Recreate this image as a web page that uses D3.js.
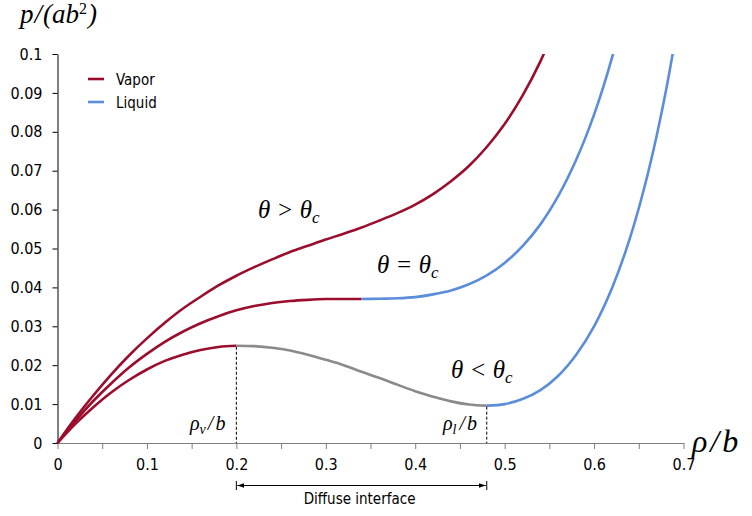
<!DOCTYPE html>
<html>
<head>
<meta charset="utf-8">
<script src="https://cdn.jsdelivr.net/npm/d3@7"></script>
<style>
  body { margin: 0; background: #fff; }
  svg text { font-family: "DejaVu Sans Condensed", "DejaVu Sans", sans-serif; }
  .math { font-family: "Liberation Serif", serif; font-style: italic; }
</style>
</head>
<body>
<svg id="chart" width="752" height="516"></svg>
<script>
// density rho/b
const rho = [0, 0.02, 0.04, 0.06, 0.08, 0.10, 0.12, 0.14, 0.16, 0.18, 0.20, 0.22, 0.24, 0.26, 0.28,
  0.30, 0.32, 0.34, 0.36, 0.38, 0.40, 0.42, 0.44, 0.46, 0.48, 0.50, 0.52, 0.54, 0.56, 0.58, 0.60,
  0.62, 0.64, 0.66, 0.68, 0.70];

// pressure p/(ab^2)
const hotP = [0, 0.0064, 0.0122, 0.0176, 0.0225, 0.0269, 0.0309, 0.0345, 0.0376, 0.0405, 0.0430,
  0.0452, 0.0472, 0.0491, 0.0507, 0.0523, 0.0538, 0.0554, 0.0572, 0.0591, 0.0613, 0.0640, 0.0673,
  0.0712, 0.0761, 0.0820, 0.0893, 0.0981, 0.1090];
const critP = [0, 0.0057, 0.0108, 0.0153, 0.0194, 0.0229, 0.0260, 0.0286, 0.0308, 0.0326, 0.0341,
  0.0352, 0.0360, 0.0365, 0.0368, 0.0370, 0.0370, 0.0370, 0.0371, 0.0372, 0.0375, 0.0382, 0.0392,
  0.0408, 0.0431, 0.0463, 0.0506, 0.0562, 0.0635, 0.0728, 0.0844, 0.0990, 0.1172];
const coldP = [0, 0.0049, 0.0092, 0.0130, 0.0162, 0.0189, 0.0211, 0.0227, 0.0239, 0.0247, 0.0250,
  0.0249, 0.0245, 0.0238, 0.0227, 0.0214, 0.0200, 0.0183, 0.0167, 0.0150, 0.0133, 0.0119, 0.0107,
  0.0099, 0.0096, 0.0100, 0.0113, 0.0136, 0.0173, 0.0227, 0.0300, 0.0398, 0.0526, 0.0691, 0.0901,
  0.1167];

// phase breaks on each isotherm (rho/b)
const critVaporEnd = 0.34;
const coldVaporEnd = 0.20;
const coldLiquidStart = 0.48;

const xTicks = [0, 0.05, 0.1, 0.15, 0.2, 0.25, 0.3, 0.35, 0.4, 0.45, 0.5, 0.55, 0.6, 0.65, 0.7];
const xLabels = [0, 0.1, 0.2, 0.3, 0.4, 0.5, 0.6, 0.7];
const yTicks = [0, 0.01, 0.02, 0.03, 0.04, 0.05, 0.06, 0.07, 0.08, 0.09, 0.1];

const red = "#9b0d2d", blue = "#5b8ddb", gray = "#8a8a8a";

const svg = d3.select("#chart");
const mLeft = 57.5, mRight = 683.5, mTop = 54, mBottom = 443;

const x = d3.scaleLinear().domain([0, 0.7]).range([mLeft, mRight]);
const y = d3.scaleLinear().domain([0, 0.1]).range([mBottom, mTop]);

svg.append("clipPath").attr("id", "plot")
  .append("rect").attr("x", mLeft - 3).attr("y", mTop).attr("width", mRight - mLeft + 6).attr("height", mBottom - mTop + 3);

// axes
const xAxis = svg.append("g").attr("transform", `translate(0,${mBottom})`)
  .call(d3.axisBottom(x).tickValues(xTicks).tickSize(6).tickSizeOuter(0)
    .tickFormat(d => xLabels.some(v => Math.abs(v - d) < 1e-9) ? d3.format("")(+d.toFixed(2)) : ""));
xAxis.select(".domain").attr("stroke", "#7f7f7f");
xAxis.selectAll(".tick line").attr("stroke", "#7f7f7f");
xAxis.selectAll("text").attr("font-size", 16).attr("fill", "#000").attr("y", 27).attr("dy", 0);

const yAxis = svg.append("g").attr("transform", `translate(${mLeft},0)`)
  .call(d3.axisLeft(y).tickValues(yTicks).tickSize(5).tickSizeOuter(0)
    .tickFormat(d => d3.format("")(+d.toFixed(2))));
yAxis.select(".domain").attr("stroke", "#000");
yAxis.selectAll(".tick line").attr("stroke", "#000");
yAxis.selectAll("text").attr("font-size", 16).attr("fill", "#000").attr("x", -15);

// isotherms
const line = d3.line().x(d => x(d[0])).y(d => y(d[1])).curve(d3.curveCatmullRom);
const pts = arr => arr.map((p, i) => [rho[i], p]);
const seg = (arr, a, b) => pts(arr).filter(d => d[0] >= a - 1e-9 && d[0] <= b + 1e-9);

const curves = svg.append("g").attr("clip-path", "url(#plot)")
  .attr("fill", "none").attr("stroke-width", 2.6).attr("stroke-linecap", "butt");

const segments = [
  { d: seg(hotP, 0, 1), c: red },
  { d: seg(critP, 0, critVaporEnd), c: red },
  { d: seg(critP, critVaporEnd, 1), c: blue },
  { d: seg(coldP, 0, coldVaporEnd), c: red },
  { d: seg(coldP, coldVaporEnd, coldLiquidStart), c: gray },
  { d: seg(coldP, coldLiquidStart, 1), c: blue }
];
curves.selectAll("path").data(segments).join("path")
  .attr("d", s => line(s.d)).attr("stroke", s => s.c);

// spinodal markers
const spin = [[coldVaporEnd, coldP[rho.indexOf(coldVaporEnd)]], [coldLiquidStart, coldP[rho.indexOf(coldLiquidStart)]]];
svg.selectAll(".spin").data(spin).join("line").attr("class", "spin")
  .attr("x1", d => x(d[0])).attr("x2", d => x(d[0]))
  .attr("y1", d => y(d[1]) + 1).attr("y2", mBottom)
  .attr("stroke", "#000").attr("stroke-width", 1).attr("stroke-dasharray", "3,2");

// diffuse interface arrow
const defs = svg.append("defs");
defs.append("marker").attr("id", "ah").attr("viewBox", "0 0 10 10").attr("refX", 10).attr("refY", 5)
  .attr("markerWidth", 7).attr("markerHeight", 7).attr("orient", "auto-start-reverse")
  .append("path").attr("d", "M0,1.5L10,5L0,8.5Z").attr("fill", "#000");
const ay = 485.5;
svg.append("line").attr("x1", x(coldVaporEnd) + 1).attr("x2", x(coldLiquidStart) - 1)
  .attr("y1", ay).attr("y2", ay).attr("stroke", "#000").attr("stroke-width", 1)
  .attr("marker-start", "url(#ah)").attr("marker-end", "url(#ah)");
[coldVaporEnd, coldLiquidStart].forEach(v => {
  svg.append("line").attr("x1", x(v)).attr("x2", x(v)).attr("y1", ay - 4.5).attr("y2", ay + 4.5)
    .attr("stroke", "#000").attr("stroke-width", 1);
});
svg.append("text").attr("x", (x(coldVaporEnd) + x(coldLiquidStart)) / 2 - 2).attr("y", 504)
  .attr("text-anchor", "middle").attr("font-size", 15).text("Diffuse interface");

// legend
const legend = [["Vapor", red], ["Liquid", blue]];
const lg = svg.append("g").attr("transform", "translate(88,79)");
legend.forEach(([name, c], i) => {
  lg.append("line").attr("x1", 0).attr("x2", 16).attr("y1", i * 23).attr("y2", i * 23)
    .attr("stroke", c).attr("stroke-width", 2.6);
  lg.append("text").attr("x", 28).attr("y", i * 23 + 6).attr("font-size", 15).text(name);
});

// math labels
function mathLabel(px, py, size, parts) {
  const t = svg.append("text").attr("class", "math").attr("x", px).attr("y", py).attr("font-size", size);
  parts.forEach(p => {
    const s = t.append("tspan").text(p.t);
    if (p.size) s.attr("font-size", p.size);
    if (p.dy) s.attr("dy", p.dy);
    if (p.dx) s.attr("dx", p.dx);
    if (p.up) s.attr("font-style", "normal");
  });
  return t;
}
mathLabel(20, 23, 27, [{ t: "p" }, { t: "/", dx: 1 }, { t: "(ab", dx: 1 }, { t: "2", size: 16, dy: -9, up: true }, { t: ")", dy: 9, dx: 1 }]);
mathLabel(692, 452, 32, [{ t: "ρ" }, { t: "/", dx: 3 }, { t: "b", dx: 3 }]);
mathLabel(258, 218, 25, [{ t: "θ > θ" }, { t: "c", size: 17, dy: 5 }]);
mathLabel(377, 273, 25, [{ t: "θ = θ" }, { t: "c", size: 17, dy: 5 }]);
mathLabel(451, 378, 25, [{ t: "θ < θ" }, { t: "c", size: 17, dy: 5 }]);
mathLabel(190, 430, 20, [{ t: "ρ" }, { t: "v", size: 14, dy: 4 }, { t: "/", dy: -4, dx: 2 }, { t: "b", dx: 2 }]);
mathLabel(443, 430, 20, [{ t: "ρ" }, { t: "l", size: 14, dy: 4 }, { t: "/", dy: -4, dx: 3 }, { t: "b", dx: 2 }]);
</script>
</body>
</html>
